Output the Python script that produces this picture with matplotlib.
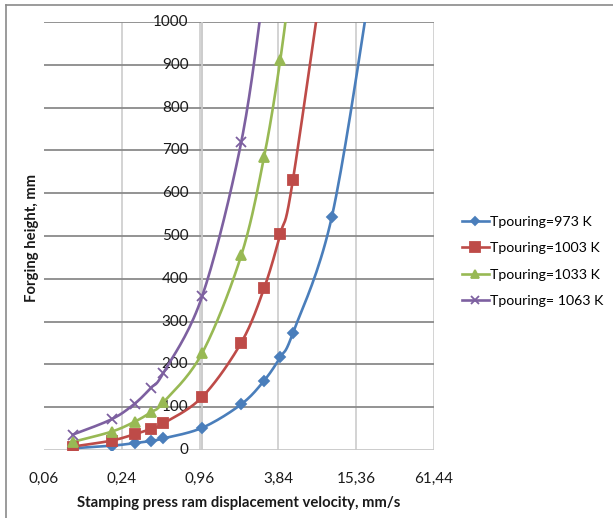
# Forging height vs stamping press ram velocity, log-4 x axis (Excel style)

import numpy as np
import matplotlib
matplotlib.use('Agg')
import matplotlib.pyplot as plt
from matplotlib.lines import Line2D

plt.rcParams['font.family'] = ['Lato', 'DejaVu Sans']

# data
velocity = [0.1, 0.2, 0.3, 0.4, 0.5, 1, 2, 3, 4, 5, 10, 20]
h_973 = [4, 10, 16, 21, 27, 52, 107, 162, 217, 273, 545, 1090]
h_1003 = [8, 22, 37, 49, 62, 124, 251, 378, 505, 630, 1260]
h_1033 = [19, 43, 66, 88, 111, 227, 455, 685, 912, 1140]
h_1063 = [36, 72, 108, 145, 180, 360, 720, 1080]

labels = ['Tpouring=973 K', 'Tpouring=1003 K', 'Tpouring=1033 K', 'Tpouring= 1063 K']
colors = ['#4A7EBB', '#BE4B48', '#98B954', '#7D60A0']
markers = ['D', 's', '^', 'x']
msizes = [5.5, 7, 7, 7]
leg_msizes = [4.5, 7, 6, 6]

x_ticks = [0.06, 0.24, 0.96, 3.84, 15.36, 61.44]
y_ticks = [0, 100, 200, 300, 400, 500, 600, 700, 800, 900, 1000]


def smoothCurve(xs, ys, sx=78.0, sy=0.428, n=20):
    """
    Excel-like smoothed line: bezier segments with control points
    from neighbours, worked out in (roughly) pixel space
    """
    u = np.log(np.array(xs) / 0.06) / np.log(4) * sx
    v = np.array(ys, dtype=float) * sy
    p = np.column_stack([u, v])
    out = []
    t = np.linspace(0, 1, n)[:, None]
    for i in range(len(p) - 1):
        p0 = p[i - 1] if i > 0 else p[i]
        p1 = p[i]
        p2 = p[i + 1]
        p3 = p[i + 2] if i + 2 < len(p) else p[i + 1]
        c1 = p1 + (p2 - p0) / 6
        c2 = p2 - (p3 - p1) / 6
        seg = ((1 - t) ** 3) * p1 + 3 * ((1 - t) ** 2) * t * c1 + 3 * (1 - t) * t ** 2 * c2 + t ** 3 * p2
        out.append(seg if i == 0 else seg[1:])
    out = np.vstack(out)
    return 0.06 * 4 ** (out[:, 0] / sx), out[:, 1] / sy


fig = plt.figure(figsize=(6.13, 5.18), dpi=100)
ax = fig.add_axes([44 / 613, 1 - 450 / 518, 390 / 613, 428 / 518])

ax.set_xscale('log', base=4)
ax.set_xlim(0.06, 61.44)
ax.set_ylim(0, 1000)

# grid: light verticals, darker horizontals
for xv in x_ticks[1:]:
    ax.axvline(xv, color='#d0d0d0', lw=1.3, zorder=1)
for yv in y_ticks:
    ax.axhline(yv, color='#8a8a8a' if yv > 0 else '#c8c8c8', lw=1.3, zorder=1)
# vertical axis crosses at 1
ax.axvline(1.0, color='#c8c8c8', lw=1.3, zorder=1)

for sp in ax.spines.values():
    sp.set_visible(False)

series = [h_973, h_1003, h_1033, h_1063]
for ys, lab, c, m, ms in zip(series, labels, colors, markers, msizes):
    xs = velocity[:len(ys)]
    sx_, sy_ = smoothCurve(xs, ys)
    ax.plot(sx_, sy_, color=c, lw=1.9, zorder=3)
    ax.plot(xs, ys, ls='none', marker=m, color=c, ms=ms, mew=1.3, zorder=4)

ax.set_xticks(x_ticks)
ax.set_xticklabels([('%g' % v).replace('.', ',') for v in x_ticks], fontsize=11, color='#1a1a1a')
ax.xaxis.set_minor_locator(matplotlib.ticker.NullLocator())
ax.tick_params(axis='x', length=0, pad=16)
ax.set_yticks([])

for yv in y_ticks:
    ax.annotate(str(yv), xy=(1.0, yv), xytext=(-10, 0), textcoords='offset points',
                ha='right', va='center', fontsize=11, color='#1a1a1a', zorder=2)

ax.set_xlabel('Stamping press ram displacement velocity, mm/s', fontsize=10.7,
              fontweight='bold', color='#1a1a1a', labelpad=7)
fig.text(32 / 613, 1 - 238 / 518, 'Forging height, mm', rotation=90, ha='center', va='center',
         fontsize=10.7, fontweight='bold', color='#1a1a1a')

handles = [Line2D([], [], color=c, lw=1.9, marker=m, ms=ms, mew=1.3)
           for c, m, ms in zip(colors, markers, leg_msizes)]
fig.legend(handles, labels, loc='upper left', bbox_to_anchor=(456 / 613, 1 - 210 / 518),
           frameon=False, fontsize=10.2, handlelength=1.95, handletextpad=0.07,
           labelspacing=1.02, borderaxespad=0)

# chart area border
fig.add_artist(Line2D([6 / 613, 1], [1 - 5 / 518, 1 - 5 / 518], color='#8a8a8a', lw=1.2))
fig.add_artist(Line2D([6 / 613, 6 / 613], [0, 1 - 5 / 518], color='#8a8a8a', lw=1.2))

fig.savefig('out.png', dpi=100)
